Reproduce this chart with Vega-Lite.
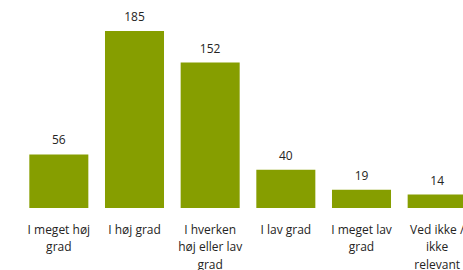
{
  "$schema": "https://vega.github.io/schema/vega-lite/v6.json",
  "autosize": {"type": "none"},
  "width": 454,
  "height": 177,
  "padding": {"left": 21, "top": 31, "right": 0, "bottom": 62},
  "background": "white",
  "config": {"view": {"stroke": null}, "font": "Segoe UI, Open Sans, sans-serif"},
  "data": {"values": [
    {"kategori": "I meget høj grad", "antal": 56},
    {"kategori": "I høj grad", "antal": 185},
    {"kategori": "I hverken høj eller lav grad", "antal": 152},
    {"kategori": "I lav grad", "antal": 40},
    {"kategori": "I meget lav grad", "antal": 19},
    {"kategori": "Ved ikke / ikke relevant", "antal": 14}
  ]},
  "encoding": {
    "x": {
      "field": "kategori", "type": "nominal", "sort": null,
      "scale": {"paddingInner": 0.22, "paddingOuter": 0.11},
      "axis": {
        "title": null, "domain": false, "ticks": false, "labelAngle": 0,
        "labelFontSize": 12, "labelColor": "#252423", "labelPadding": 21,
        "labelLineHeight": 17.5, "labelLimit": 200, "labelOverlap": false, "labelBaseline": "middle",
        "labelExpr": "datum.value == 'I meget høj grad' ? ['I meget høj', 'grad'] : datum.value == 'I hverken høj eller lav grad' ? ['I hverken', 'høj eller lav', 'grad'] : datum.value == 'I meget lav grad' ? ['I meget lav', 'grad'] : datum.value == 'Ved ikke / ikke relevant' ? ['Ved ikke /', 'ikke', 'relevant'] : datum.value"
      }
    },
    "y": {
      "field": "antal", "type": "quantitative",
      "scale": {"domain": [0, 185], "nice": false},
      "axis": null
    }
  },
  "layer": [
    {"mark": {"type": "bar", "color": "#869e00"}},
    {"mark": {"type": "text", "baseline": "bottom", "dy": -7, "fontSize": 12, "color": "#252423"},
     "encoding": {"text": {"field": "antal", "type": "quantitative"}}}
  ]
}
